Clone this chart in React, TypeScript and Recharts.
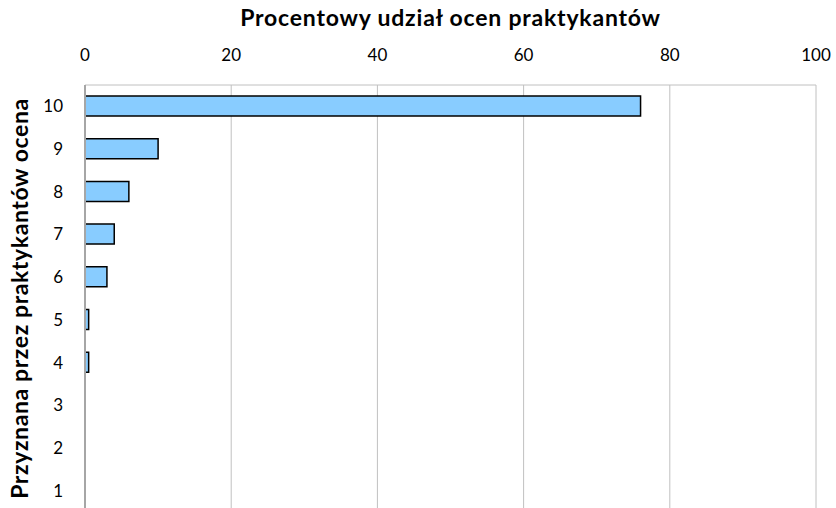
import { Bar, BarChart, CartesianGrid, XAxis, YAxis } from "recharts";

const grades = ["10", "9", "8", "7", "6", "5", "4", "3", "2", "1"];
const shares = [76, 10, 6, 4, 3, 0.5, 0.5, 0, 0, 0];
const xTicks = [0, 20, 40, 60, 80, 100];

const data = grades.map((g, i) => ({ grade: g, share: shares[i] }));

const font = "Lato, 'Open Sans', sans-serif";

export default function App() {
  return (
    <div style={{ position: "absolute", left: 0, top: 0, width: 836, height: 508, overflow: "hidden", background: "#fff", fontFamily: font }}>
      <div style={{ position: "absolute", left: 85, width: 731, top: 3, textAlign: "center", fontWeight: 700, fontSize: 23, letterSpacing: 0.8, color: "#000" }}>
        Procentowy udział ocen praktykantów
      </div>
      <BarChart
        width={836}
        height={520}
        data={data}
        layout="vertical"
        margin={{ top: 55, right: 20, bottom: 8, left: 0 }}
        barSize={20}
      >
        <CartesianGrid horizontal={false} stroke="#c0c0c0" />
        <XAxis
          type="number"
          orientation="top"
          domain={[0, 100]}
          ticks={xTicks}
          height={30}
          tickLine={false}
          axisLine={{ stroke: "#c0c0c0" }}
          tick={{ fill: "#000", fontSize: 17, fontFamily: font }}
          tickMargin={18}
        />
        <YAxis
          type="category"
          dataKey="grade"
          width={85}
          tickLine={false}
          axisLine={{ stroke: "#a6a6a6", strokeWidth: 2 }}
          tick={{ fill: "#000", fontSize: 17, fontFamily: font }}
          tickMargin={16}
          label={{
            value: "Przyznana przez praktykantów ocena",
            angle: -90,
            position: "insideLeft",
            offset: 20,
            style: { textAnchor: "middle", fontWeight: 700, fontSize: 23, letterSpacing: 0.6, fill: "#000", fontFamily: font },
          }}
        />
        <Bar dataKey="share" fill="#88CCFF" stroke="#000" strokeWidth={1.5} isAnimationActive={false} />
      </BarChart>
    </div>
  );
}
